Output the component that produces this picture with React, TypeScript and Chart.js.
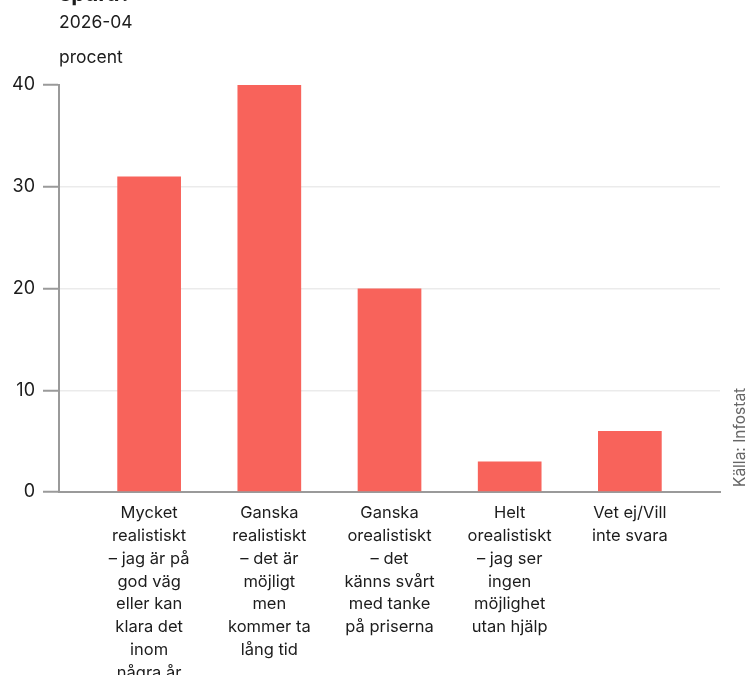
import React, { useEffect, useRef } from 'react';
import { Chart, registerables } from 'chart.js';

Chart.register(...registerables);

const categories: string[][] = [
  ['Mycket', 'realistiskt', '– jag är på', 'god väg', 'eller kan', 'klara det', 'inom', 'några år'],
  ['Ganska', 'realistiskt', '– det är', 'möjligt', 'men', 'kommer ta', 'lång tid'],
  ['Ganska', 'orealistiskt', '– det', 'känns svårt', 'med tanke', 'på priserna'],
  ['Helt', 'orealistiskt', '– jag ser', 'ingen', 'möjlighet', 'utan hjälp'],
  ['Vet ej/Vill', 'inte svara'],
];
const values: number[] = [31, 40, 20, 3, 6];
const yMin = 0;
const yMax = 40;
const yStep = 10;

const titleText = 'spara?';
const subtitleText = '2026-04';
const unitText = 'procent';
const sourceText = 'Källa: Infostat';

const FONT = 'Inter, "Noto Sans", sans-serif';
const OFFSET = 30;
const W = 746;
const H = 720;

const textPlugin = {
  id: 'extraTexts',
  afterDraw(chart: any) {
    const ctx = chart.ctx;
    const a = chart.chartArea;
    ctx.save();
    ctx.fillStyle = '#1c1c1c';
    ctx.textAlign = 'left';
    ctx.textBaseline = 'alphabetic';
    ctx.font = `bold 22px ${FONT}`;
    ctx.fillText(titleText, a.left, a.top - 84.5);
    ctx.font = `17.5px ${FONT}`;
    ctx.fillText(subtitleText, a.left, a.top - 57);
    ctx.fillText(unitText, a.left, a.top - 22);
    ctx.translate(745, a.bottom - 5);
    ctx.rotate(-Math.PI / 2);
    ctx.fillStyle = '#666666';
    ctx.font = `15.5px ${FONT}`;
    ctx.fillText(sourceText, 0, 0);
    ctx.restore();
  },
};

export default function App() {
  const ref = useRef<HTMLCanvasElement | null>(null);

  useEffect(() => {
    if (!ref.current) return;
    const chart = new Chart(ref.current, {
      type: 'bar',
      data: {
        datasets: [
          {
            data: values.map((v, i) => ({ x: i, y: v })) as any,
            backgroundColor: '#f8635b',
            borderWidth: 0,
            categoryPercentage: 1,
            barPercentage: 0.53,
          },
        ],
      },
      options: {
        animation: false,
        responsive: false,
        devicePixelRatio: 1,
        layout: { padding: { top: 85 + OFFSET, right: 26, bottom: 0, left: 0 } },
        plugins: {
          legend: { display: false },
          tooltip: { enabled: false },
          title: { display: false },
        },
        scales: {
          x: {
            type: 'linear',
            min: -0.75,
            max: 4.75,
            offset: false,
            grid: { display: false },
            border: { display: true, color: '#9a9a9a', width: 2 },
            afterBuildTicks: (scale: any) => {
              scale.ticks = scale.ticks.filter((t: any) => Number.isInteger(t.value));
            },
            afterFit: (scale: any) => {
              scale.height = H - (492 + OFFSET);
            },
            ticks: {
              stepSize: 1,
              autoSkip: false,
              maxRotation: 0,
              minRotation: 0,
              padding: 2,
              color: '#1c1c1c',
              font: { family: FONT, size: 16.5, lineHeight: 1.38 },
              callback: (value: any) => categories[value as number] ?? '',
            },
          },
          y: {
            min: yMin,
            max: yMax,
            afterFit: (scale: any) => {
              scale.width = 59;
            },
            grid: {
              color: (c: any) => (c.tick && c.tick.value === yMax ? 'rgba(0,0,0,0)' : '#ebebeb'),
              lineWidth: 1.5,
              tickColor: '#9a9a9a',
              tickWidth: 2,
              tickLength: 16,
            },
            border: { display: true, color: '#9a9a9a', width: 2 },
            ticks: {
              stepSize: yStep,
              padding: 8,
              color: '#1c1c1c',
              font: { family: FONT, size: 18 },
            },
          },
        },
      },
      plugins: [textPlugin],
    } as any);
    return () => chart.destroy();
  }, []);

  return (
    <div style={{ position: 'fixed', left: 0, top: -OFFSET, width: W, height: H, background: '#fff' }}>
      <canvas ref={ref} width={W} height={H} style={{ width: W, height: H, display: 'block' }} />
    </div>
  );
}
